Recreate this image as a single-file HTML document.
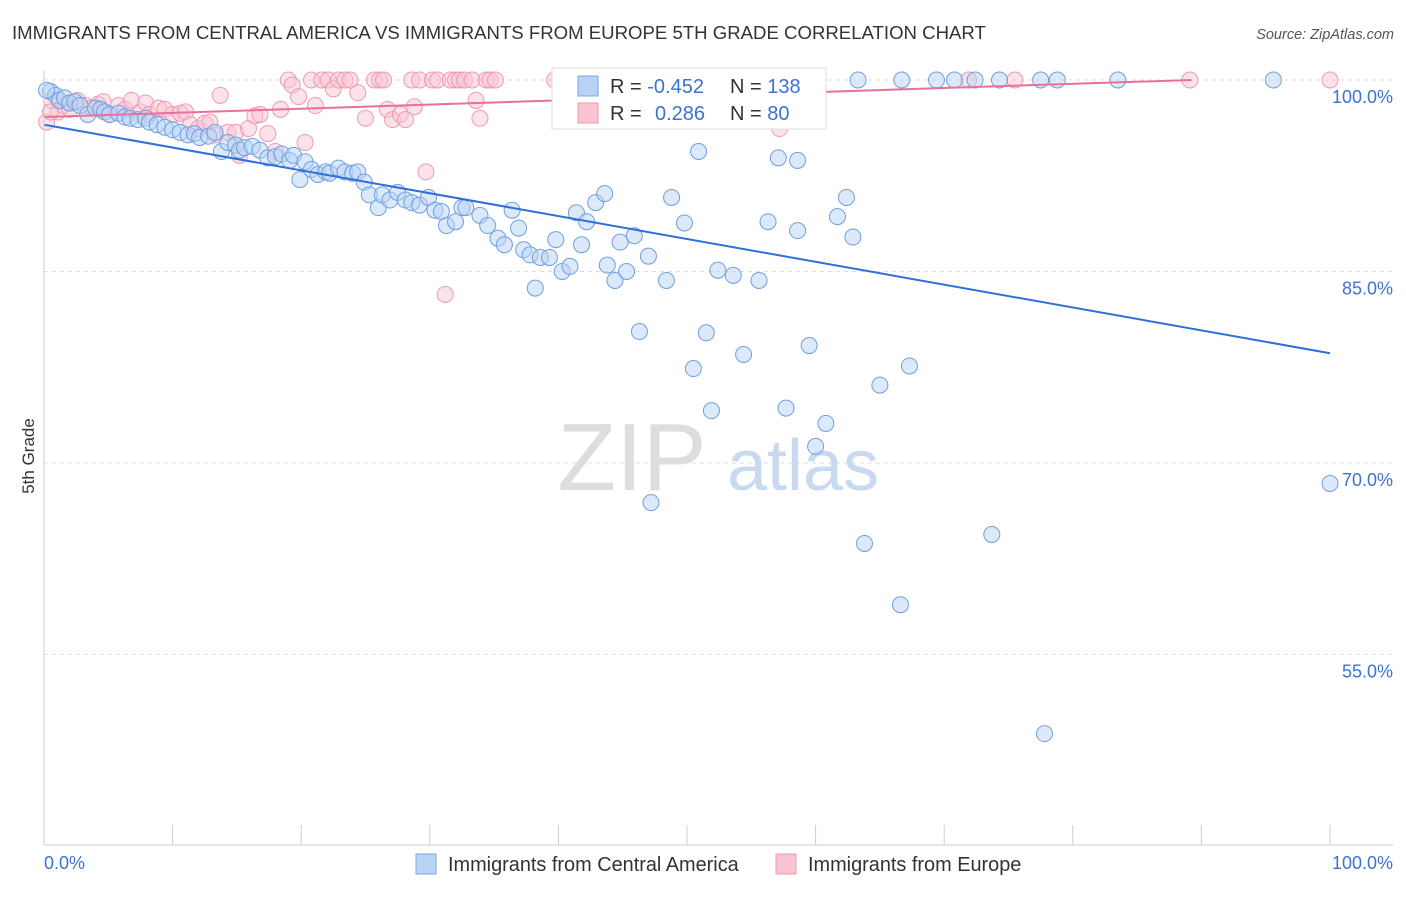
<!DOCTYPE html>
<html><head><meta charset="utf-8"><style>
body{margin:0;background:#fff;font-family:"Liberation Sans",sans-serif;}
svg text{font-family:"Liberation Sans",sans-serif;}
</style></head><body>
<svg id="c" width="1406" height="892" xmlns="http://www.w3.org/2000/svg">
<text x="12" y="39" font-size="18.6" fill="#333">IMMIGRANTS FROM CENTRAL AMERICA VS IMMIGRANTS FROM EUROPE 5TH GRADE CORRELATION CHART</text>
<text x="1394" y="39" font-size="14.5" fill="#555" font-style="italic" text-anchor="end">Source: ZipAtlas.com</text>
<text x="34" y="456" font-size="17" fill="#333" transform="rotate(-90 34 456)" text-anchor="middle">5th Grade</text>
<g id="grid"></g>
<g><text x="632" y="490" font-size="96" fill="#ddd" font-family="Liberation Serif" text-anchor="middle">ZIP</text><text x="803" y="490" font-size="72" fill="#c9daf0" text-anchor="middle">atlas</text></g>
<g id="pts"></g>
<g id="lines"></g>
<g id="axes"></g>
<g>
<rect x="552" y="68" width="274" height="61" fill="#fff" stroke="#ddd"/>
<rect x="578" y="76" width="20" height="20" fill="#b8d3f5" stroke="#7aa8e6"/>
<rect x="578" y="103" width="20" height="20" fill="#f9c5d3" stroke="#ee9ab2"/>
<text x="610" y="93" font-size="20" fill="#333">R = <tspan fill="#3b73d1">-0.452</tspan></text>
<text x="730" y="93" font-size="20" fill="#333">N = <tspan fill="#3b73d1">138</tspan></text>
<text x="610" y="120" font-size="20" fill="#333">R =  <tspan fill="#3b73d1" x="655">0.286</tspan></text>
<text x="730" y="120" font-size="20" fill="#333">N = <tspan fill="#3b73d1">80</tspan></text>
</g>
<g>
<rect x="416" y="854" width="20" height="20" fill="#b8d3f5" stroke="#7aa8e6"/>
<text x="448" y="871" font-size="19.9" fill="#333">Immigrants from Central America</text>
<rect x="776" y="854" width="20" height="20" fill="#f9c5d3" stroke="#ee9ab2"/>
<text x="808" y="871" font-size="19.9" fill="#333">Immigrants from Europe</text>
</g>
</svg>
<script>
const yTicks=[100,85,70,55];
const xTickLabels=["0.0%","100.0%"];
const blueTrend=[96.5,-0.179];
const pinkTrend=[97.1,0.0325];
const blueX=[0.5,0.9,1.2,1.6,2.0,2.4,2.8,3.4,4.0,4.4,4.7,5.1,5.8,6.3,6.7,7.3,7.9,8.2,8.8,9.4,10.0,10.6,11.2,11.7,12.1,12.8,13.3,13.8,14.3,14.9,15.2,15.6,16.2,16.8,17.4,18.0,18.5,19.1,19.4,19.9,20.3,20.8,21.3,21.9,22.2,22.9,23.4,24.0,24.4,24.9,25.3,26.0,26.3,26.9,27.5,28.1,28.6,29.2,29.9,30.4,30.9,31.3,32.0,32.5,32.8,33.9,34.5,35.3,35.8,36.4,36.9,37.3,37.8,38.2,38.6,39.3,39.8,40.3,40.9,41.4,41.8,42.2,42.9,43.6,43.8,44.4,44.8,45.3,45.9,46.3,47.0,48.4,48.8,49.8,50.5,50.9,51.5,51.9,52.4,53.6,54.4,55.6,56.3,57.1,57.7,58.6,58.6,59.5,60.0,60.8,61.7,62.4,62.9,63.8,65.0,66.6,67.3,73.7,77.8,47.2,100.0,47.9,63.3,66.7,69.4,70.8,72.4,74.3,77.5,78.8,83.5,95.6,54.1,0.2];
const blueY=[99.1,98.8,98.4,98.6,98.2,98.3,98.0,97.3,97.8,97.7,97.5,97.3,97.4,97.1,97.0,96.9,97.0,96.7,96.5,96.3,96.1,95.9,95.7,95.8,95.5,95.6,95.9,94.4,95.1,94.9,94.5,94.7,94.8,94.5,93.9,94.0,94.2,93.7,94.1,92.2,93.6,93.0,92.6,92.8,92.7,93.1,92.8,92.7,92.8,92.0,91.0,90.0,91.0,90.6,91.2,90.6,90.4,90.2,90.8,89.8,89.7,88.6,88.9,90.0,90.0,89.4,88.6,87.6,87.1,89.8,88.4,86.7,86.3,83.7,86.1,86.1,87.5,85.0,85.4,89.6,87.1,88.9,90.4,91.1,85.5,84.3,87.3,85.0,87.8,80.3,86.2,84.3,90.8,88.8,77.4,94.4,80.2,74.1,85.1,84.7,78.5,84.3,88.9,93.9,74.3,93.7,88.2,79.2,71.3,73.1,89.3,90.8,87.7,63.7,76.1,58.9,77.6,64.4,48.8,66.9,68.4,100,100,100,100,100,100,100,100,100,100,100,100,99.2];
const pinkX=[0.2,0.6,1.1,1.5,2.0,2.6,3.2,3.7,4.2,4.6,5.1,5.8,6.3,6.8,7.5,7.9,8.2,8.9,9.4,10.0,10.6,11.0,11.4,12.0,12.5,12.9,13.3,13.7,14.3,14.9,15.2,15.9,16.4,16.8,17.4,18.0,18.4,19.0,19.3,19.8,20.3,20.8,21.1,21.6,22.1,22.5,22.9,23.4,23.8,24.4,25.0,25.7,26.1,26.4,26.7,27.1,27.7,28.1,28.6,28.8,29.2,29.7,30.2,30.6,31.2,31.6,32.0,32.3,32.7,33.3,33.6,33.9,34.4,34.7,35.1,39.7,40.1,46.3,49.5,57.2,60.2,71.9,75.5,89.1,100,0.5];
const pinkY=[96.7,98.4,97.5,98.0,97.7,98.4,98.0,97.8,98.1,98.3,97.3,98.0,97.7,98.4,97.5,98.2,97.3,97.8,97.7,97.3,97.4,97.5,96.5,96.2,96.6,96.7,95.7,98.8,95.9,95.9,94.1,96.2,97.2,97.3,95.8,94.4,97.7,100,99.6,98.7,95.1,100,98.0,100,100,99.3,100,100,100,99.0,97.0,100,100,100,97.7,96.9,97.3,96.9,100,97.9,100,92.8,100,100,83.2,100,100,100,100,100,98.4,97.0,100,100,100,100,100,100,100,96.2,100,100,100,100,100,97.5];
const NS="http://www.w3.org/2000/svg";
const X0=44,X1=1330,YT=80,YB=845,YMIN=40.08;
const sx=v=>X0+(v/100)*(X1-X0);
const sy=v=>YT+(100-v)/(100-YMIN)*(YB-YT);
function mk(tag,attrs,parent){const e=document.createElementNS(NS,tag);for(const k in attrs)e.setAttribute(k,attrs[k]);parent.appendChild(e);return e;}
const grid=document.getElementById('grid'),axes=document.getElementById('axes'),pts=document.getElementById('pts'),lines=document.getElementById('lines');
yTicks.forEach(t=>{
 const l=mk('line',{x1:X0,x2:1393,y1:sy(t),y2:sy(t),stroke:'#ddd','stroke-dasharray':'4,4'},grid);
 
 
 const tx=mk('text',{x:1393,y:sy(t)+23,'font-size':18,fill:'#3b73d1','text-anchor':'end'},axes);
 tx.textContent=t.toFixed(1)+'%';
 
 
});
const ax=mk('line',{x1:X0,x2:1393,y1:YB,y2:YB,stroke:'#ccc'},axes);


const ay=mk('line',{x1:X0,x2:X0,y1:70,y2:YB,stroke:'#ccc'},axes);


for(let i=1;i<=10;i++){const t=mk('line',{x1:sx(i*10),x2:sx(i*10),y1:YB-20,y2:YB,stroke:'#ccc'},axes);
 
 }
const xl0=mk('text',{x:44,y:869,'font-size':18,fill:'#3b73d1'},axes);xl0.textContent=xTickLabels[0];


const xl1=mk('text',{x:1393,y:869,'font-size':18,fill:'#3b73d1','text-anchor':'end'},axes);xl1.textContent=xTickLabels[1];


function draw(xs,ys,fill,stroke,name){xs.forEach((x,i)=>{const c=mk('circle',{cx:sx(x),cy:sy(ys[i]),r:8,fill:fill,'fill-opacity':0.5,stroke:stroke,'stroke-width':1},pts);
 
 });}
draw(pinkX,pinkY,'#f9c5d3','#ee9ab2','pink-point');
draw(blueX,blueY,'#b8d3f5','#6f9fe0','blue-point');
const bl=mk('line',{x1:sx(0),y1:sy(blueTrend[0]),x2:sx(100),y2:sy(blueTrend[0]+blueTrend[1]*100),stroke:'#2f6fd8','stroke-width':2},lines);


let xe=100;if(pinkTrend[1]>0&&pinkTrend[0]+pinkTrend[1]*100>100)xe=(100-pinkTrend[0])/pinkTrend[1];
const pl=mk('line',{x1:sx(0),y1:sy(pinkTrend[0]),x2:sx(xe),y2:sy(pinkTrend[0]+pinkTrend[1]*xe),stroke:'#e8709a','stroke-width':2},lines);


</script>
</body></html>
